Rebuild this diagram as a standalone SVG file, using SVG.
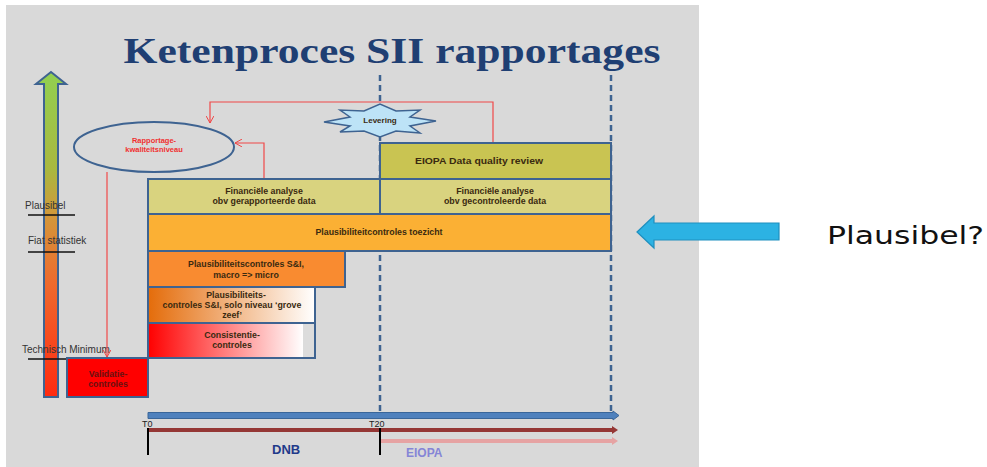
<svg xmlns="http://www.w3.org/2000/svg" width="987" height="467" viewBox="0 0 987 467">
<defs>
<linearGradient id="gArrow" x1="0" y1="0" x2="0" y2="1">
<stop offset="0" stop-color="#92D050"/>
<stop offset="0.3" stop-color="#A9B840"/>
<stop offset="0.45" stop-color="#D4963A"/>
<stop offset="0.65" stop-color="#EE6A2E"/>
<stop offset="1" stop-color="#FF2A10"/>
</linearGradient>
<linearGradient id="gSolo" x1="0" y1="0" x2="1" y2="0">
<stop offset="0" stop-color="#E46C0A"/>
<stop offset="1" stop-color="#FFFFFF"/>
</linearGradient>
<linearGradient id="gCons" x1="0" y1="0" x2="1" y2="0">
<stop offset="0" stop-color="#FF0000"/>
<stop offset="0.93" stop-color="#FFFFFF"/>
<stop offset="0.93" stop-color="#DCDCDC"/>
<stop offset="1" stop-color="#DCDCDC"/>
</linearGradient>
<marker id="mRed" viewBox="0 0 10 10" refX="9" refY="5" markerWidth="8" markerHeight="8" orient="auto" markerUnits="userSpaceOnUse">
<path d="M0,0 L9,5 L0,10" fill="none" stroke="#F04040" stroke-width="1.2"/>
</marker>
<style>
.box{stroke:#3E6391;stroke-width:2}
.t{font-family:"Liberation Sans",Arial,sans-serif;font-weight:bold;font-size:8.8px;fill:#3A2A10;text-anchor:middle}
.lbl{font-family:"Liberation Sans",Arial,sans-serif;font-size:10px;fill:#333}
.red{fill:none;stroke:#F04848;stroke-width:1.2}
.dash{stroke:#3E6391;stroke-width:2.5;stroke-dasharray:6,4;fill:none}
</style>
</defs>
<rect x="0" y="0" width="987" height="467" fill="#FFFFFF"/>
<rect x="6" y="5" width="693" height="462" fill="#D9D9D9"/>
<text x="392" y="63" text-anchor="middle" font-family="'Liberation Serif','DejaVu Serif',serif" font-weight="bold" font-size="36" fill="#1F3F73" textLength="537" lengthAdjust="spacingAndGlyphs">Ketenproces SII rapportages</text>

<g id="scale-arrow">
<path d="M51,72 L66,84 L58,84 L58,397 L44,397 L44,84 L36,84 Z" fill="url(#gArrow)" stroke="#3E6391" stroke-width="2"/>
</g>
<g id="labels">
<text class="lbl" x="25" y="209">Plausibel</text>
<line x1="28" y1="215" x2="75" y2="215" stroke="#111" stroke-width="1.5"/>
<text class="lbl" x="28" y="244">Fiat statistiek</text>
<line x1="28" y1="252" x2="75" y2="252" stroke="#111" stroke-width="1.5"/>
<text class="lbl" x="22" y="353">Technisch Minimum</text>
<line x1="28" y1="359" x2="75" y2="359" stroke="#111" stroke-width="1.5"/>
</g>

<g id="connectors">
<line class="dash" x1="380" y1="75" x2="380" y2="414"/>
<line class="dash" x1="611" y1="75" x2="611" y2="414"/>
<polyline class="red" points="493,143 493,102 210,102 210,123" marker-end="url(#mRed)"/>
<polyline class="red" points="264,179 264,143 235,143" marker-end="url(#mRed)"/>
<line class="red" x1="107" y1="172" x2="107" y2="357" marker-end="url(#mRed)"/>
</g>

<g id="ellipse-kwaliteit">
<ellipse cx="154" cy="147" rx="80" ry="25" fill="#D9D9D9" stroke="#3E6391" stroke-width="2"/>
<text class="t" x="154" y="143" style="fill:#F03030;font-size:7.5px">Rapportage-</text>
<text class="t" x="154" y="152" style="fill:#F03030;font-size:7.5px">kwaliteitsniveau</text>
</g>

<g id="levering">
<polygon points="436,121 410,117 420,110 396,111 380,104 364,111 340,110 350,117 324,122 350,126 340,132 364,131 380,137 396,131 420,133 410,126" fill="#BDE3F7" stroke="#3E6391" stroke-width="1.5"/>
<text class="t" x="380" y="123" style="font-size:8px">Levering</text>
</g>

<g id="eiopa-review">
<rect class="box" x="380" y="143" width="231" height="36" fill="#C9C452"/>
<text x="415" y="164" text-anchor="start" font-family="'Liberation Sans',Arial,sans-serif" font-weight="bold" font-size="9.5" fill="#3A2A10" textLength="128" lengthAdjust="spacingAndGlyphs">EIOPA  Data quality  review</text>
</g>
<g id="fin-gerapporteerd">
<rect class="box" x="148" y="179" width="232" height="35" fill="#D9D37F"/>
<text class="t" x="264" y="194">Financiële analyse</text>
<text class="t" x="264" y="204">obv gerapporteerde  data</text>
</g>
<g id="fin-gecontroleerd">
<rect class="box" x="380" y="179" width="231" height="35" fill="#D9D37F"/>
<text class="t" x="495" y="194">Financiële analyse</text>
<text class="t" x="495" y="204">obv gecontroleerde  data</text>
</g>
<g id="plaus-toezicht">
<rect class="box" x="148" y="214" width="463" height="37" fill="#FBB034"/>
<text class="t" x="379" y="235">Plausibiliteitcontroles  toezicht</text>
</g>
<g id="plaus-macro">
<rect class="box" x="148" y="251" width="197" height="36" fill="#F98B30"/>
<text class="t" x="246" y="267">Plausibiliteitscontroles  S&amp;I,</text>
<text class="t" x="246" y="278">macro =&gt; micro</text>
</g>
<g id="plaus-solo">
<rect class="box" x="148" y="287" width="167" height="36" fill="url(#gSolo)"/>
<text class="t" x="236" y="298">Plausibiliteits-</text>
<text class="t" x="232" y="308">controles  S&amp;I, solo niveau ‘grove</text>
<text class="t" x="232" y="318">zeef’</text>
</g>
<g id="consistentie">
<rect class="box" x="148" y="323" width="167" height="35" fill="url(#gCons)"/>
<text class="t" x="232" y="338">Consistentie-</text>
<text class="t" x="232" y="348">controles</text>
</g>
<g id="validatie">
<rect class="box" x="67" y="358" width="81" height="39" fill="#FF0000"/>
<text class="t" x="108" y="377" style="fill:#6A1010">Validatie-</text>
<text class="t" x="108" y="387" style="fill:#6A1010">controles</text>
</g>

<g id="timeline">
<path d="M148,412.5 L613,412.5 L613,411 L619,415.5 L613,420 L613,418.5 L148,418.5 Z" fill="#4F81BD" stroke="#3A6699" stroke-width="1"/>
<path d="M148,428 L612,428 L612,426 L618,430 L612,434 L612,432 L148,432 Z" fill="#953735"/>
<path d="M380,439 L612,439 L612,437 L618,441 L612,445 L612,443 L380,443 Z" fill="#E6A3A3"/>
<line x1="148" y1="428" x2="148" y2="455" stroke="#000" stroke-width="2"/>
<line x1="380" y1="428" x2="380" y2="455" stroke="#000" stroke-width="2"/>
<text x="142" y="427" font-family="'Liberation Sans',Arial,sans-serif" font-size="9" fill="#222">T0</text>
<text x="369" y="427" font-family="'Liberation Sans',Arial,sans-serif" font-size="9" fill="#222">T20</text>
<text x="272" y="454" font-family="'Liberation Sans',Arial,sans-serif" font-weight="bold" font-size="13" fill="#1F3A8A">DNB</text>
<text x="406" y="457" font-family="'Liberation Sans',Arial,sans-serif" font-weight="bold" font-size="12" fill="#8585D6">EIOPA</text>
</g>

<g id="plausibel-arrow">
<path d="M637,232 L654,216 L654,223 L779,223 L779,240 L654,240 L654,248 Z" fill="#2CB2E3" stroke="#1E8FBF" stroke-width="1.2"/>
<text x="827" y="244" font-family="'DejaVu Sans',Verdana,sans-serif" font-size="24" fill="#111" textLength="157" lengthAdjust="spacingAndGlyphs">Plausibel?</text>
</g>
</svg>
